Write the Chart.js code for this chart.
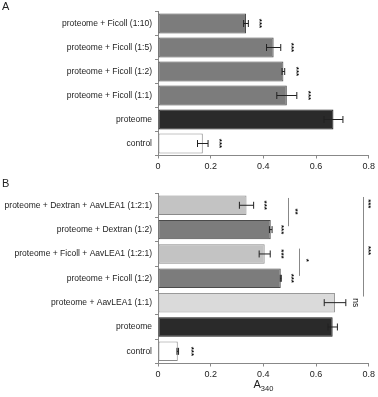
<!DOCTYPE html>
<html>
<head>
<meta charset="utf-8">
<script src="https://cdn.jsdelivr.net/npm/chart.js@4"></script>
<style>
  body { margin: 0; background: #fff; font-family: "Liberation Sans", Arial, sans-serif; }
  #wrap { position: relative; width: 378px; height: 397px; }
  .panel { position: absolute; left: 0; width: 378px; }
  .letter { position: absolute; left: 2px; font-size: 11px; color: #222; }
</style>
</head>
<body>
<div id="wrap">
  <div class="panel" style="top:0;height:185px"><canvas id="chartA"></canvas></div>
  <div class="panel" style="top:185px;height:212px"><canvas id="chartB"></canvas></div>
  <div class="letter" style="top:0px">A</div>
  <div class="letter" style="top:177px">B</div>
</div>
<script>
// panel A
const labelsA = ['proteome + Ficoll (1:10)', 'proteome + Ficoll (1:5)', 'proteome + Ficoll (1:2)',
  'proteome + Ficoll (1:1)', 'proteome', 'control'];
const valuesA = [0.334, 0.439, 0.476, 0.489, 0.666, 0.170];
const errorsA = [0.009, 0.027, 0.005, 0.038, 0.036, 0.020];
const marksA = ['***', '***', '***', '***', '', '***'];
const markPosA = [0.384, 0.505, 0.523, 0.572, null, 0.233];

// panel B
const labelsB = ['proteome + Dextran + AavLEA1 (1:2:1)', 'proteome + Dextran (1:2)',
  'proteome + Ficoll + AavLEA1 (1:2:1)', 'proteome + Ficoll (1:2)', 'proteome + AavLEA1 (1:1)',
  'proteome', 'control'];
const valuesB = [0.336, 0.428, 0.405, 0.466, 0.672, 0.663, 0.075];
const errorsB = [0.027, 0.005, 0.021, 0.002, 0.041, 0.018, 0.003];
const marksB = ['***', '***', '***', '***', 'ns', '', '***'];
const markPosB = [0.403, 0.467, 0.467, 0.505, 0.749, null, 0.127];
// comparison lines: x value, from/to category index, label and its spot
const bracketsB = [
  { x: 0.495, from: -0.3, to: 0.86, text: '**', tx: 0.52, ty: 0.26 },
  { x: 0.536, from: 1.78, to: 2.9, text: '*', tx: 0.561, ty: 2.26 },
  { x: 0.777, from: -0.34, to: 3.74, text: '***', tx: 0.799, ty: -0.06 },
  { x: 0.777, from: -0.34, to: 3.74, text: '***', tx: 0.799, ty: 1.86 }
];

const fillA = ['#7c7c7c', '#7c7c7c', '#7c7c7c', '#7c7c7c', '#2a2a2a', '#ffffff'];
const edgeA = ['#4a4a4a', '#4a4a4a', '#4a4a4a', '#4a4a4a', '#161616', '#8a8a8a'];
const fillB = ['#c3c3c3', '#7c7c7c', '#c3c3c3', '#7c7c7c', '#dadada', '#2a2a2a', '#ffffff'];
const edgeB = ['#8a8a8a', '#4a4a4a', '#8a8a8a', '#4a4a4a', '#9a9a9a', '#161616', '#8a8a8a'];

const FONT = '"Liberation Sans", Arial, sans-serif';

function rotatedText(ctx, text, x, y, size, bold) {
  ctx.save();
  ctx.translate(x, y);
  ctx.rotate(Math.PI / 2);
  ctx.font = (bold ? 'bold ' : '') + size + 'px ' + FONT;
  ctx.fillStyle = '#111';
  ctx.textAlign = 'center';
  ctx.textBaseline = 'middle';
  ctx.fillText(text, 0, 0);
  ctx.restore();
}

const extrasPlugin = {
  id: 'extras',
  afterDatasetsDraw(chart, args, opts) {
    const ctx = chart.ctx;
    const xs = chart.scales.x, ys = chart.scales.y;
    const meta = chart.getDatasetMeta(0);
    ctx.save();
    ctx.strokeStyle = '#222';
    ctx.lineWidth = 1;
    // error bars
    opts.errors.forEach((e, i) => {
      const v = chart.data.datasets[0].data[i];
      const y = meta.data[i].y;
      const x1 = xs.getPixelForValue(v - e), x2 = xs.getPixelForValue(v + e);
      ctx.beginPath();
      ctx.moveTo(x1, y); ctx.lineTo(x2, y);
      ctx.moveTo(x1, y - 3.5); ctx.lineTo(x1, y + 3.5);
      ctx.moveTo(x2, y - 3.5); ctx.lineTo(x2, y + 3.5);
      ctx.stroke();
    });
    // significance marks
    opts.marks.forEach((m, i) => {
      if (!m) return;
      const bold = m !== 'ns';
      rotatedText(ctx, m, xs.getPixelForValue(opts.markPos[i]), meta.data[i].y, bold ? 8 : 8.5, bold);
    });
    // comparison lines
    ctx.strokeStyle = '#888';
    (opts.brackets || []).forEach(b => {
      const x = Math.round(xs.getPixelForValue(b.x)) + 0.5;
      ctx.beginPath();
      ctx.moveTo(x, ys.getPixelForValue(b.from));
      ctx.lineTo(x, ys.getPixelForValue(b.to));
      ctx.stroke();
      rotatedText(ctx, b.text, xs.getPixelForValue(b.tx), ys.getPixelForValue(b.ty), 8, true);
    });
    // axis title with subscript
    if (opts.title) {
      const cx = (chart.chartArea.left + chart.chartArea.right) / 2;
      const by = chart.chartArea.bottom + 24;
      ctx.fillStyle = '#222';
      ctx.textBaseline = 'alphabetic';
      ctx.textAlign = 'left';
      ctx.font = '11px ' + FONT;
      const w1 = ctx.measureText(opts.title).width;
      ctx.font = '7.5px ' + FONT;
      const w2 = ctx.measureText(opts.sub).width;
      const sx = cx - (w1 + w2) / 2;
      ctx.font = '11px ' + FONT;
      ctx.fillText(opts.title, sx, by);
      ctx.font = '7.5px ' + FONT;
      ctx.fillText(opts.sub, sx + w1, by + 3);
    }
    ctx.restore();
  }
};

function makeChart(id, labels, values, fills, edges, barFrac, padTop, axisH, extras) {
  return new Chart(document.getElementById(id), {
    type: 'bar',
    data: {
      labels: labels,
      datasets: [{
        data: values,
        backgroundColor: fills,
        borderColor: edges,
        borderWidth: 1,
        borderSkipped: false,
        categoryPercentage: 1,
        barPercentage: barFrac
      }]
    },
    options: {
      indexAxis: 'y',
      responsive: true,
      maintainAspectRatio: false,
      animation: false,
      layout: { padding: { top: padTop, right: 8, bottom: 0, left: 0 } },
      plugins: { legend: { display: false }, tooltip: { enabled: false }, extras: extras },
      scales: {
        x: {
          min: 0, max: 0.8,
          ticks: { stepSize: 0.2, color: '#222', padding: 3, font: { family: FONT, size: 9 } },
          grid: { drawOnChartArea: false, tickLength: 3, color: '#888' },
          border: { color: '#888' },
          afterFit(s) { s.height = axisH; }
        },
        y: {
          ticks: { color: '#222', padding: 3, font: { family: FONT, size: 8.5 } },
          grid: { drawOnChartArea: false, tickLength: 3, color: '#888', offset: true },
          border: { color: '#888' },
          afterFit(s) { s.width = 158; }
        }
      }
    },
    plugins: [extrasPlugin]
  });
}

makeChart('chartA', labelsA, valuesA, fillA, edgeA, 0.83, 11.5, 29.5,
  { errors: errorsA, marks: marksA, markPos: markPosA });
makeChart('chartB', labelsB, valuesB, fillB, edgeB, 0.8, 3, 33.5,
  { errors: errorsB, marks: marksB, markPos: markPosB, brackets: bracketsB, title: 'A', sub: '340' });
</script>
</body>
</html>
